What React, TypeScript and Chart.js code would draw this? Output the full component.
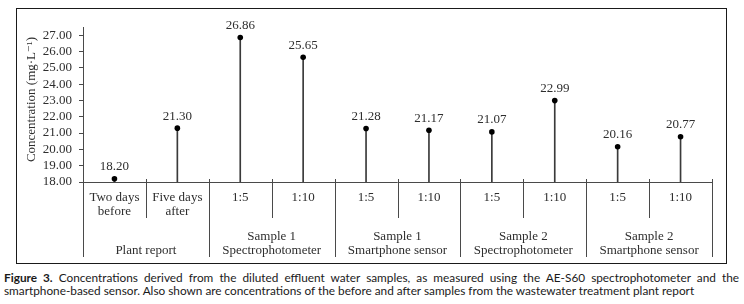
import React, { useEffect, useRef } from 'react';
import { Chart, registerables } from 'chart.js';

Chart.register(...registerables);

// ---- data ----
const subLabels: string[][] = [
  ['Two days', 'before'],
  ['Five days', 'after'],
  ['1:5'],
  ['1:10'],
  ['1:5'],
  ['1:10'],
  ['1:5'],
  ['1:10'],
  ['1:5'],
  ['1:10'],
];
const values: number[] = [18.2, 21.3, 26.86, 25.65, 21.28, 21.17, 21.07, 22.99, 20.16, 20.77];
const groupLabels: string[][] = [
  ['Plant report'],
  ['Sample 1', 'Spectrophotometer'],
  ['Sample 1', 'Smartphone sensor'],
  ['Sample 2', 'Spectrophotometer'],
  ['Sample 2', 'Smartphone sensor'],
];
const groupSizes: number[] = [2, 2, 2, 2, 2];
const yTickValues: number[] = [18, 19, 20, 21, 22, 23, 24, 25, 26, 27];
const yMin = 18;
const yMax = 27.5;
const yTitle = 'Concentration (mg\u00B7L\u207B\u00B9)';
const captionBold = 'Figure 3.';
const captionLine1 = ' Concentrations derived from the diluted effluent water samples, as measured using the AE-S60 spectrophotometer and the';
const captionLine2 = 'smartphone-based sensor. Also shown are concentrations of the before and after samples from the wastewater treatment plant report';

const SERIF = '"Liberation Serif", "DejaVu Serif", serif';
const TEXT = '#2e2e2e';
const LINE = '#4a4a4a';

const multiLevelAxis = {
  id: 'multiLevelAxis',
  afterDraw(chart: any) {
    const { ctx, chartArea } = chart;
    const xs = chart.scales.x;
    const bottom = chartArea.bottom;
    const n = subLabels.length;
    const cw = xs.getPixelForValue(1) - xs.getPixelForValue(0);
    const boundary = (i: number) => (i < n ? xs.getPixelForValue(i) - cw / 2 : xs.getPixelForValue(n - 1) + cw / 2);

    ctx.save();
    ctx.strokeStyle = LINE;
    ctx.lineWidth = 1;
    // x axis line
    ctx.beginPath();
    ctx.moveTo(chartArea.left, Math.round(bottom) + 0.5);
    ctx.lineTo(boundary(n), Math.round(bottom) + 0.5);
    ctx.stroke();

    // boundaries
    const groupEdges = new Set<number>();
    let acc = 0;
    groupEdges.add(0);
    groupSizes.forEach((g) => {
      acc += g;
      groupEdges.add(acc);
    });
    for (let i = 0; i <= n; i++) {
      const x = Math.round(boundary(i)) + 0.5;
      const long = groupEdges.has(i);
      ctx.beginPath();
      ctx.moveTo(x, bottom - 3);
      ctx.lineTo(x, bottom + (long ? 75 : 36));
      ctx.stroke();
    }

    // sub labels
    ctx.fillStyle = TEXT;
    ctx.font = `13px ${SERIF}`;
    ctx.textAlign = 'center';
    ctx.textBaseline = 'middle';
    subLabels.forEach((lines, i) => {
      const x = xs.getPixelForValue(i);
      lines.forEach((t, k) => ctx.fillText(t, x, bottom + 16 + k * 14));
    });

    // group labels
    let start = 0;
    groupSizes.forEach((g, gi) => {
      const x0 = boundary(start);
      const x1 = boundary(start + g);
      const cx = (x0 + x1) / 2;
      const lines = groupLabels[gi];
      const first = bottom + 69 - (lines.length - 1) * 14;
      lines.forEach((t, k) => ctx.fillText(t, cx, first + k * 14));
      start += g;
    });

    // y title
    const ys = chart.scales.y;
    ctx.save();
    ctx.translate(15, (ys.top + ys.bottom) / 2 - 5);
    ctx.rotate(-Math.PI / 2);
    ctx.fillText(yTitle, 0, 0);
    ctx.restore();

    ctx.restore();
  },
  afterDatasetsDraw(chart: any) {
    const { ctx } = chart;
    const meta = chart.getDatasetMeta(1);
    ctx.save();
    ctx.fillStyle = TEXT;
    ctx.font = `13px ${SERIF}`;
    ctx.textAlign = 'center';
    ctx.textBaseline = 'middle';
    meta.data.forEach((pt: any, i: number) => {
      ctx.fillText(values[i].toFixed(2), pt.x, pt.y - 12);
    });
    ctx.restore();
  },
};

function ChartView() {
  const ref = useRef<HTMLCanvasElement | null>(null);
  useEffect(() => {
    if (!ref.current) return;
    const chart = new Chart(ref.current, {
      type: 'bar',
      data: {
        labels: subLabels.map((l) => l.join(' ')),
        datasets: [
          {
            type: 'bar',
            data: values,
            backgroundColor: '#3a3a3a',
            borderWidth: 0,
            barThickness: 1,
            order: 2,
          } as any,
          {
            type: 'line',
            data: values,
            showLine: false,
            pointRadius: 2.8,
            pointBackgroundColor: '#000000',
            pointBorderColor: '#000000',
            pointBorderWidth: 0,
            order: 1,
          } as any,
        ],
      },
      options: {
        animation: false,
        responsive: false,
        maintainAspectRatio: false,
        layout: { padding: { left: 0, right: 14, top: 18, bottom: 81 } },
        plugins: { legend: { display: false }, tooltip: { enabled: false } },
        scales: {
          x: { display: false, offset: true },
          y: {
            min: yMin,
            max: yMax,
            afterBuildTicks: (s: any) => {
              s.ticks = yTickValues.map((v) => ({ value: v }));
            },
            afterFit: (s: any) => {
              s.width = 66;
            },
            ticks: {
              autoSkip: false,
              callback: (v: any) => Number(v).toFixed(2),
              font: { family: SERIF, size: 13 },
              color: TEXT,
              padding: 7,
            },
            grid: { drawOnChartArea: false, drawTicks: true, tickLength: 4, color: LINE },
            border: { color: LINE, width: 1 },
          },
        },
      },
      plugins: [multiLevelAxis],
    });
    return () => chart.destroy();
  }, []);
  return <canvas ref={ref} width={709} height={254} style={{ display: 'block', width: 709, height: 254 }} />;
}

export default function App() {
  const capStyle: React.CSSProperties = {
    position: 'absolute',
    left: 4,
    width: 735,
    fontFamily: 'Lato, "Open Sans", sans-serif',
    fontSize: 11.8,
    lineHeight: '13px',
    color: '#1a1a1a',
    whiteSpace: 'nowrap',
  };
  return (
    <div style={{ position: 'fixed', left: 0, top: 0, width: 744, height: 304, background: '#fff', overflow: 'hidden' }}>
      <div
        style={{
          position: 'absolute',
          left: 16,
          top: 8,
          width: 711,
          height: 256,
          border: '1px solid #1a1a1a',
          boxSizing: 'border-box',
        }}
      >
        <ChartView />
      </div>
      <div style={{ ...capStyle, top: 271, textAlign: 'justify', textAlignLast: 'justify', whiteSpace: 'normal' } as any}>
        <b>{captionBold}</b>
        {captionLine1}
      </div>
      <div style={{ ...capStyle, top: 284 }}>{captionLine2}</div>
    </div>
  );
}
